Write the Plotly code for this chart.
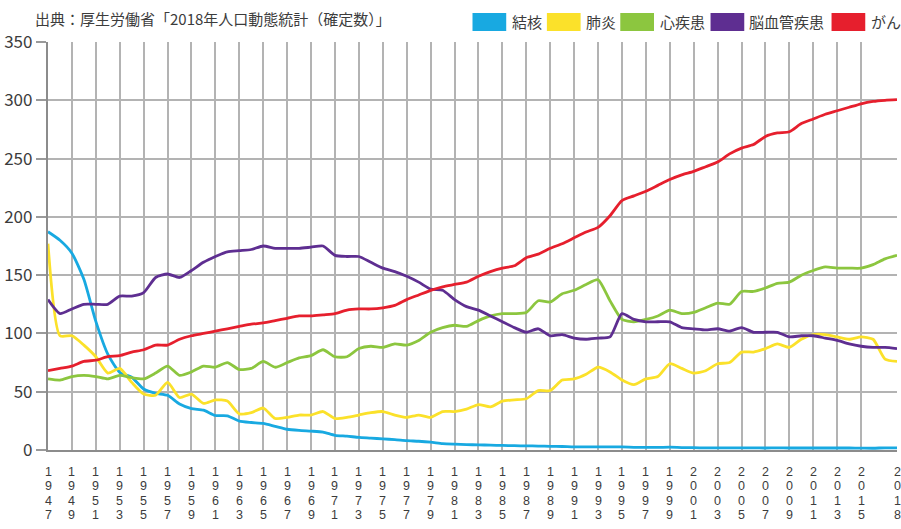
import plotly.graph_objects as go

years = list(range(1947, 2019))

tuberculosis = [187.2, 179.9, 168.8,
                146.4, 110.3, 82.2, 66.5, 62.4, 52.3, 48.6, 46.9, 39.4, 35.5,
                34.2, 29.6, 29.3, 24.8, 23.6, 22.8, 20.3, 17.8, 16.8, 16.2,
                15.4, 12.6, 11.9, 10.8, 10.2, 9.5, 8.9, 8.0, 7.5, 6.7,
                5.5, 5.0, 4.6, 4.4, 4.2, 3.9, 3.7, 3.5, 3.4, 3.1,
                3.0, 2.7, 2.7, 2.6, 2.6, 2.6, 2.3, 2.2, 2.2, 2.4,
                2.1, 2.0, 1.8, 1.9, 1.8, 1.8, 1.8, 1.7, 1.8, 1.7,
                1.7, 1.7, 1.7, 1.7, 1.7, 1.6, 1.5, 1.9, 1.8]

pneumonia = [177, 98, 98,
             90, 80, 66, 70, 58, 48, 47, 58, 45, 48,
             40, 43, 42, 31, 32, 36, 27, 28, 30, 30,
             33, 27, 28, 30, 32, 33, 30, 28, 30, 28,
             33, 33, 35, 39, 37, 42, 43, 44, 51, 51,
             60, 61, 65, 71, 67, 60, 56, 61, 63, 74,
             70, 66, 68, 74, 75, 84, 84, 87, 91, 88,
             95, 99, 99, 97, 95, 97, 95, 78, 76]

heart = [61, 60, 63,
         64, 63, 61, 64, 62, 61, 66, 72, 64, 67,
         72, 71, 75, 69, 70, 76, 71, 75, 79, 81,
         86, 80, 80, 87, 89, 88, 91, 90, 94, 101,
         105, 107, 106, 111, 115, 117, 117, 118, 128, 127,
         134, 137, 142, 146, 128, 112, 110, 112, 115, 120,
         117, 118, 122, 126, 125, 136, 136, 139, 143, 144,
         150, 154, 157, 156, 156, 156, 159, 164, 167]

stroke = [129, 117, 121,
          125, 125, 125, 132, 132, 135, 148, 151, 148, 154,
          161, 166, 170, 171, 172, 175, 173, 173, 173, 174,
          175, 167, 166, 166, 161, 156, 153, 149, 144, 138,
          137, 129, 123, 120, 115, 110, 105, 101, 104, 98,
          99, 96, 95, 96, 97, 117, 112, 110, 110, 110,
          105, 104, 103, 104, 102, 105, 101, 101, 101, 97,
          98, 98, 96, 94, 91, 89, 88, 88, 87]

cancer = [68, 70, 72,
          76, 77, 80, 81, 84, 86, 90, 90, 95, 98,
          100, 102, 104, 106, 108, 109, 111, 113, 115, 115,
          116, 117, 120, 121, 121, 122, 124, 129, 133, 137,
          140, 142, 144, 149, 153, 156, 158, 165, 168, 173,
          177, 182, 187, 191, 201, 214, 218, 222, 227, 232,
          236, 239, 243, 247, 254, 259, 262, 269, 272, 273,
          280, 284, 288, 291, 294, 297, 299, 300, 300.5]

series_names = ["結核", "肺炎", "心疾患", "脳血管疾患", "がん"]
series_values = [tuberculosis, pneumonia, heart, stroke, cancer]
colors = ["#18a9e1", "#fbe12a", "#8cc63f", "#5e2e91", "#e61f2d"]

tick_years = list(range(1947, 2016, 2)) + [2018]
y_ticks = [0, 50, 100, 150, 200, 250, 300, 350]

FONT = "Noto Sans CJK JP"
DIGIT_FONT = "Liberation Sans"
TXT = "#3c3c3c"

fig = go.Figure()
for name, vals, col in zip(series_names, series_values, colors):
    fig.add_trace(go.Scatter(x=years, y=vals, mode="lines", name=name,
                             line=dict(color=col, width=2.8, shape="spline", smoothing=0.6),
                             showlegend=False, hoverinfo="x+y+name"))

fig.update_layout(
    width=901, height=529,
    margin=dict(l=41, r=4, t=42, b=79),
    paper_bgcolor="white", plot_bgcolor="white",
    font=dict(family=FONT, color=TXT),
    xaxis=dict(range=[1947, 2018], tickmode="array", tickvals=tick_years,
               showticklabels=False,
               showgrid=True, gridcolor="#b3b3b3", gridwidth=1.6,
               zeroline=False, showline=True, linecolor="#8c8c8c", linewidth=2.2,
               ticks=""),
    yaxis=dict(range=[0, 350], tickmode="array", tickvals=y_ticks,
               showgrid=True, gridcolor="#b3b3b3", gridwidth=1.6,
               zeroline=False, showline=True, linecolor="#8c8c8c", linewidth=2.2,
               ticks="outside", ticklen=10, tickcolor="#9a9a9a", tickwidth=1.6,
               tickfont=dict(size=17, color=TXT, family=FONT)),
)

annotations = []
annotations.append(dict(text="出典：厚生労働省「2018年人口動態統計（確定数）」",
                        xref="paper", yref="paper", x=(26 - 41) / 856, y=1.0, yshift=24,
                        xanchor="left", yanchor="middle", showarrow=False,
                        font=dict(size=15, color=TXT, family=FONT)))

# x tick labels: one digit per row, stacked vertically under each tick year
for yr in tick_years:
    for i, ch in enumerate(str(yr)):
        annotations.append(dict(text=ch, x=yr, y=0, xref="x", yref="y",
                                yshift=-(21.7 + 14.4 * i), xanchor="center", yanchor="middle",
                                showarrow=False, borderpad=0,
                                font=dict(size=12.5, color=TXT, family=DIGIT_FONT)))

legend_rect_x = [469, 544, 618, 709, 831]
legend_text_x = [507, 581, 656, 746, 869]
shapes = []
for name, col, rx, tx in zip(series_names, colors, legend_rect_x, legend_text_x):
    shapes.append(dict(type="rect", xref="paper", yref="paper",
                       x0=(rx - 41) / 856, x1=(rx + 34 - 41) / 856,
                       y0=(450 - 31) / 408, y1=(450 - 13) / 408,
                       fillcolor=col, line=dict(width=0), layer="above"))
    annotations.append(dict(text=name, xref="paper", yref="paper",
                            x=(tx - 41) / 856, y=(450 - 21.5) / 408,
                            xanchor="left", yanchor="middle", showarrow=False,
                            font=dict(size=15, color=TXT, family=FONT)))

fig.update_layout(annotations=annotations, shapes=shapes)
fig.write_html("out.html", config={"displayModeBar": False},
               post_script="document.body.style.margin='0px';")
